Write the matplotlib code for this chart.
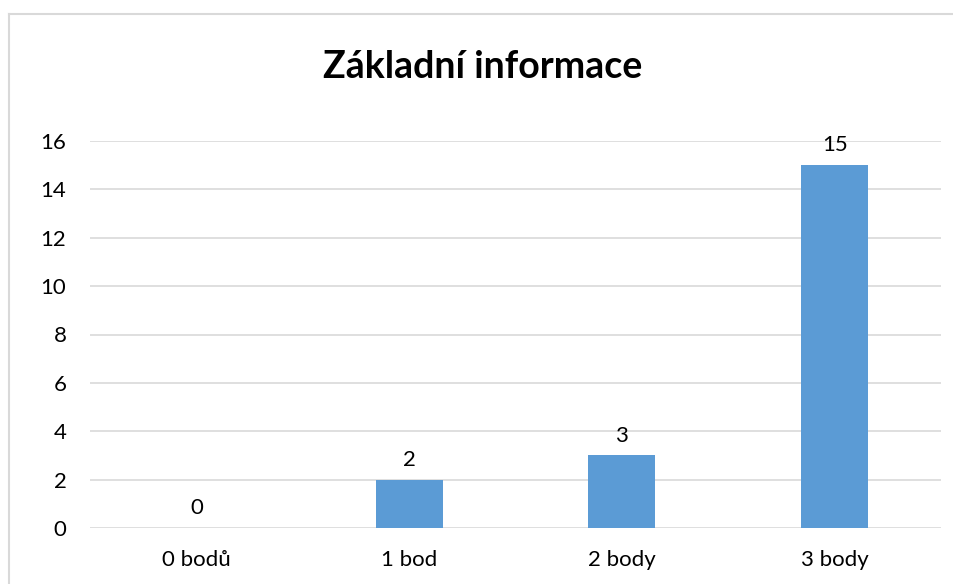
import matplotlib.pyplot as plt
from matplotlib.lines import Line2D

plt.rcParams['font.family'] = ['Lato', 'DejaVu Sans']

categories = ['0 bodů', '1 bod', '2 body', '3 body']
counts = [0, 2, 3, 15]
title = 'Základní informace'

W, H = 954, 584
fig = plt.figure(figsize=(W / 100, H / 100), dpi=100)

# light grey chart frame, only top and left edges show in the crop
frame = dict(transform=fig.transFigure, color='#d9d9d9', linewidth=1.5)
fig.lines.append(Line2D([9 / W, 1.0], [1 - 14 / H, 1 - 14 / H], **frame))
fig.lines.append(Line2D([9 / W, 9 / W], [0.0, 1 - 14 / H], **frame))

ax = fig.add_axes([90 / W, 1 - 528 / H, 851 / W, 387 / H])
x = range(len(categories))
bars = ax.bar(x, counts, width=0.315, color='#5b9bd5', zorder=3)
ax.set_xlim(-0.5, len(categories) - 0.5)
ax.set_ylim(0, 16)
ax.set_yticks(range(0, 17, 2))
ax.set_xticks(list(x))
ax.set_xticklabels(categories)
ax.grid(axis='y', color='#d9d9d9', linewidth=1.2, zorder=0)
for s in ax.spines.values():
    s.set_visible(False)
ax.tick_params(length=0, labelsize=16, colors='black')
ax.tick_params(axis='y', pad=17)
ax.tick_params(axis='x', pad=16)

for b, v in zip(bars, counts):
    ax.annotate(str(v), (b.get_x() + b.get_width() / 2, v),
                xytext=(0, 7), textcoords='offset points',
                ha='center', va='bottom', fontsize=16)

fig.text(483 / W, 1 - 67 / H, title, ha='center', va='center',
         fontsize=27, fontweight='bold')

fig.savefig('out.png', dpi=100)
